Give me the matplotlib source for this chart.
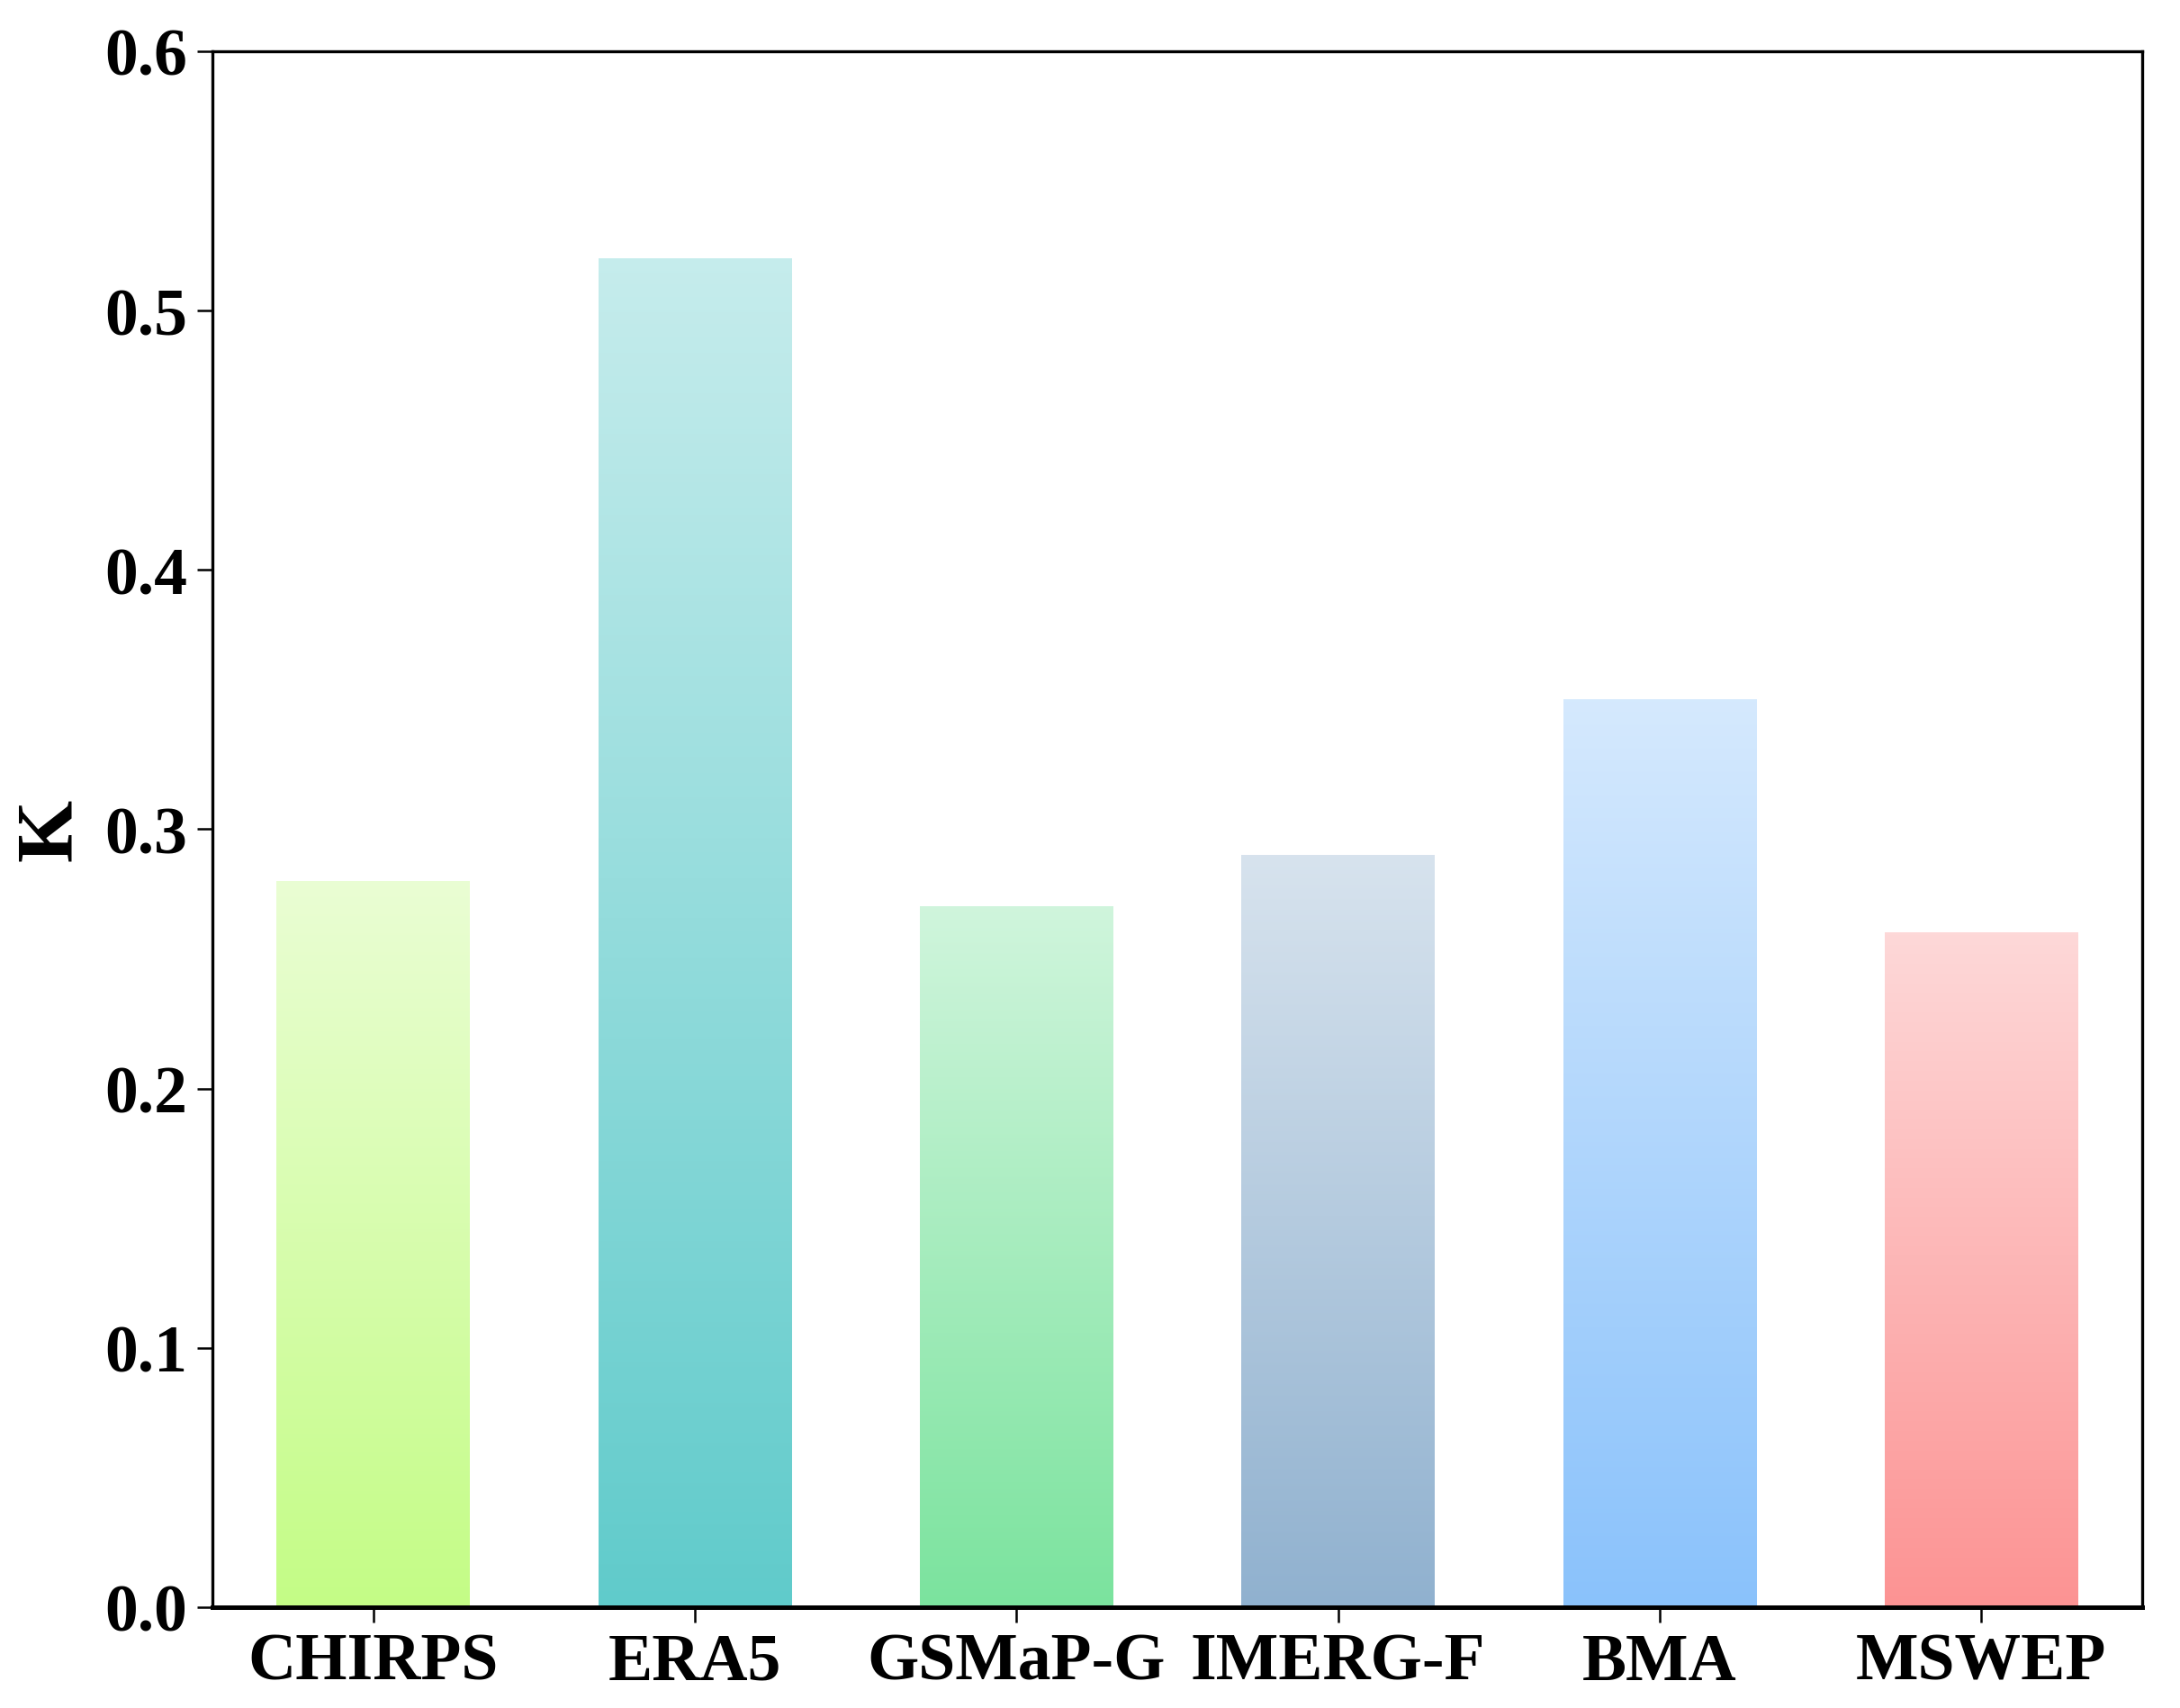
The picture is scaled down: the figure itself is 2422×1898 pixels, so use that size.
import numpy as np
import matplotlib

matplotlib.use("Agg")
import matplotlib.pyplot as plt
from matplotlib.colors import to_rgb

# K score per precipitation product
products = ["CHIRPS", "ERA5", "GSMaP-G", "IMERG-F", "BMA", "MSWEP"]
k_values = [0.28, 0.52, 0.27, 0.29, 0.35, 0.26]
y_ticks = [0.0, 0.1, 0.2, 0.3, 0.4, 0.5, 0.6]

base_colors = ["#c4fc86", "#60cbcb", "#7be39e", "#90b1cf", "#8ac2fb", "#fc9393"]
top_alpha = 0.36

plt.rcParams["font.family"] = ["Liberation Serif", "DejaVu Serif"]
plt.rcParams["font.weight"] = "bold"


def gradient_image(color, n=256):
    """RGBA column fading from full colour (bottom) to a pale tint (top)."""
    rgb = np.array(to_rgb(color))
    a = np.linspace(1.0, top_alpha, n)[:, None]
    col = 1 - (1 - rgb[None, :]) * a
    return col[:, None, :]


fig = plt.figure(figsize=(24.22, 18.99), dpi=100)
ax = fig.add_axes([0.0974, 0.059, 0.8853, 0.9105])

x = np.arange(len(products))
bars = ax.bar(x, k_values, width=0.6, color="none", edgecolor="none")
for bar, c in zip(bars, base_colors):
    x0 = bar.get_x()
    ax.imshow(gradient_image(c), extent=[x0, x0 + bar.get_width(), 0, bar.get_height()],
              origin="lower", aspect="auto", interpolation="bilinear", zorder=2)

ax.set_xlim(-0.5, 5.5)
ax.set_ylim(0, 0.6)
ax.set_xticks(x)
ax.set_xticklabels(products)
ax.set_yticks(y_ticks)
ax.set_yticklabels([f"{v:.1f}" for v in y_ticks])
ax.tick_params(axis="both", labelsize=53, length=12, width=1.8, pad=8)
for lab in ax.get_xticklabels() + ax.get_yticklabels():
    lab.set_fontweight("bold")
ax.set_ylabel("K", fontsize=64, fontweight="bold", labelpad=14)
for side, sp in ax.spines.items():
    sp.set_linewidth(3.6 if side == "bottom" else 2.4)
    sp.set_zorder(3)

fig.savefig("out.png", dpi=100)
